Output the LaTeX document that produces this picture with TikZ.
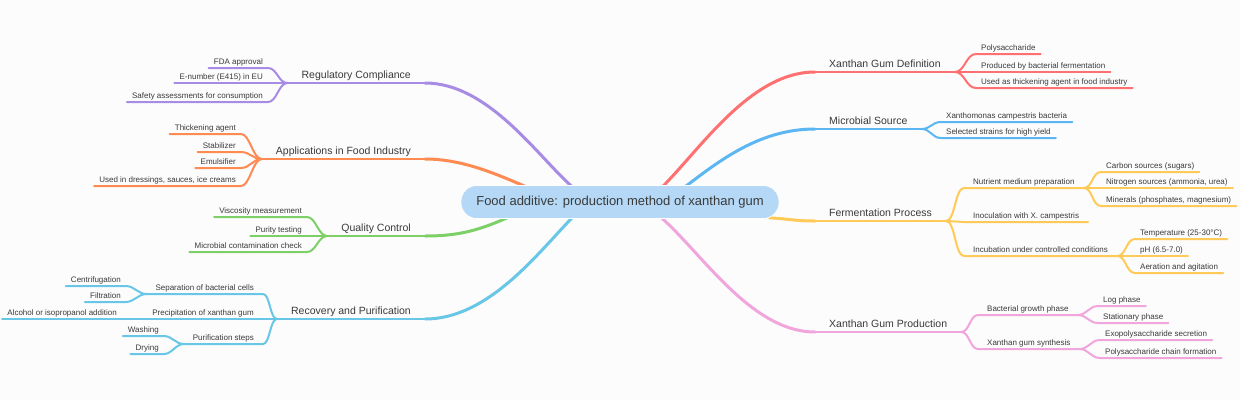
\documentclass[tikz,border=0pt]{standalone}
\usepackage{fontspec}
\setmainfont{Liberation Sans}
\usetikzlibrary{backgrounds}
\definecolor{testo}{HTML}{3A3A3A}
\definecolor{sfondo}{HTML}{FCFCFC}
\definecolor{radicefill}{HTML}{B4D8F5}
\definecolor{rosso}{HTML}{FF7070}
\definecolor{blu}{HTML}{5CB6F2}
\definecolor{giallo}{HTML}{FFCA57}
\definecolor{rosa}{HTML}{F0A5DC}
\definecolor{viola}{HTML}{A88BE5}
\definecolor{arancio}{HTML}{FF8A52}
\definecolor{verde}{HTML}{7DCF67}
\definecolor{ciano}{HTML}{68C7E6}
\tikzset{
  radice/.style={fill=radicefill, draw=white, line width=0.6pt, rounded corners=16pt,
    minimum width=318pt, minimum height=33pt, text=testo, font=\fontsize{13}{15}\selectfont},
  ramo/.style={font=\fontsize{10.5}{12}\selectfont, text=testo, inner xsep=14pt,
    inner ysep=1.5pt, text height=8pt, text depth=3pt},
  voce/.style={font=\fontsize{8}{9}\selectfont, text=testo, inner xsep=5pt,
    inner ysep=1pt, text height=6pt, text depth=2pt},
  sotto/.style={voce, inner xsep=9pt},
  linea/.style={line width=2pt, line cap=round},
  tronco/.style={line width=3pt, line cap=round}
}
\begin{document}
\begin{tikzpicture}[x=1pt, y=-1pt]
\useasboundingbox (0,0) rectangle (1240,400);
\node[radice] (root) at (620,202) {Food additive: production method of xanthan gum};

% rami principali
\node[ramo, anchor=south west] (def) at (815,72) {Xanthan Gum Definition};
\node[ramo, anchor=south west] (mic) at (815,129) {Microbial Source};
\node[ramo, anchor=south west] (fer) at (815,221) {Fermentation Process};
\node[ramo, anchor=south west] (pro) at (815,332) {Xanthan Gum Production};
\node[ramo, anchor=south east] (reg) at (425,83) {Regulatory Compliance};
\node[ramo, anchor=south east] (app) at (425,159) {Applications in Food Industry};
\node[ramo, anchor=south east] (qc) at (425,236) {Quality Control};
\node[ramo, anchor=south east] (rec) at (425,319) {Recovery and Purification};

\begin{scope}[on background layer]
  \fill[sfondo] (0,0) rectangle (1240,400);
  \draw[rosso, tronco] ([xshift=40pt, yshift=-4pt]root.north) .. controls (700,150) and (750,72) .. (def.south west);
  \draw[blu, tronco] ([xshift=62pt, yshift=-4pt]root.north) .. controls (720,160) and (760,129) .. (mic.south west);
  \draw[giallo, tronco] ([xshift=-10pt, yshift=1pt]root.south east) .. controls (790,219) and (795,221) .. (fer.south west);
  \draw[rosa, tronco] ([xshift=38pt, yshift=4pt]root.south) .. controls (700,250) and (750,332) .. (pro.south west);
  \draw[viola, tronco] ([xshift=-45pt, yshift=-4pt]root.north) .. controls (540,160) and (490,83) .. (reg.south east);
  \draw[arancio, tronco] ([xshift=69pt, yshift=-3pt]root.north west) .. controls (500,176) and (465,159) .. (app.south east);
  \draw[verde, tronco] ([xshift=51pt, yshift=3pt]root.south west) .. controls (480,230) and (460,236) .. (qc.south east);
  \draw[ciano, tronco] ([xshift=-45pt, yshift=4pt]root.south) .. controls (540,250) and (490,319) .. (rec.south east);
\end{scope}

\foreach \n/\c in {def/rosso, mic/blu, fer/giallo, pro/rosa, reg/viola, app/arancio, qc/verde, rec/ciano}
  \draw[\c, linea] (\n.south west) -- (\n.south east);

% destra
\foreach \y/\t [count=\i] in {54/Polysaccharide, 72/Produced by bacterial fermentation, 88/Used as thickening agent in food industry}{
  \node[voce, anchor=south west] (def\i) at (976,\y) {\t};
  \draw[rosso, linea] (def.south east) .. controls +(10,0) and +(-10,0) .. (def\i.south west) -- (def\i.south east);
}
\foreach \y/\t [count=\i] in {122/Xanthomonas campestris bacteria, 138/Selected strains for high yield}{
  \node[voce, anchor=south west] (mic\i) at (941,\y) {\t};
  \draw[blu, linea] (mic.south east) .. controls +(9,0) and +(-9,0) .. (mic\i.south west) -- (mic\i.south east);
}
\foreach \y/\t/\n in {188/Nutrient medium preparation/nut, 222/Inoculation with X. campestris/ino, 256/Incubation under controlled conditions/inc}{
  \node[sotto, anchor=south west] (\n) at (964,\y) {\t};
  \draw[giallo, linea] (fer.south east) .. controls +(9,0) and +(-9,0) .. (\n.south west) -- (\n.south east);
}
\foreach \y/\t [count=\i] in {172/Carbon sources (sugars), 188/{Nitrogen sources (ammonia, urea)}, 206/{Minerals (phosphates, magnesium)}}{
  \node[voce, anchor=south west] (nut\i) at (1101,\y) {\t};
  \draw[giallo, linea] (nut.south east) .. controls +(9,0) and +(-9,0) .. (nut\i.south west) -- (nut\i.south east);
}
\foreach \y/\t [count=\i] in {239/Temperature (25-30°C), 256/pH (6.5-7.0), 273/Aeration and agitation}{
  \node[voce, anchor=south west] (inc\i) at (1135,\y) {\t};
  \draw[giallo, linea] (inc.south east) .. controls +(9,0) and +(-9,0) .. (inc\i.south west) -- (inc\i.south east);
}
\foreach \y/\t/\n in {315/Bacterial growth phase/bac, 349/Xanthan gum synthesis/syn}{
  \node[sotto, anchor=south west] (\n) at (978,\y) {\t};
  \draw[rosa, linea] (pro.south east) .. controls +(8,0) and +(-8,0) .. (\n.south west) -- (\n.south east);
}
\foreach \y/\t [count=\i] in {306/Log phase, 323/Stationary phase}{
  \node[voce, anchor=south west] (bac\i) at (1098,\y) {\t};
  \draw[rosa, linea] (bac.south east) .. controls +(9,0) and +(-9,0) .. (bac\i.south west) -- (bac\i.south east);
}
\foreach \y/\t [count=\i] in {340/Exopolysaccharide secretion, 358/Polysaccharide chain formation}{
  \node[voce, anchor=south west] (syn\i) at (1100,\y) {\t};
  \draw[rosa, linea] (syn.south east) .. controls +(9,0) and +(-9,0) .. (syn\i.south west) -- (syn\i.south east);
}

% sinistra
\foreach \y/\t [count=\i] in {68/FDA approval, 83/E-number (E415) in EU, 102/Safety assessments for consumption}{
  \node[voce, anchor=south east] (reg\i) at (268,\y) {\t};
  \draw[viola, linea] (reg.south west) .. controls +(-9,0) and +(9,0) .. (reg\i.south east) -- (reg\i.south west);
}
\foreach \y/\t [count=\i] in {134/Thickening agent, 152/Stabilizer, 168/Emulsifier, 186/{Used in dressings, sauces, ice creams}}{
  \node[voce, anchor=south east] (app\i) at (241,\y) {\t};
  \draw[arancio, linea] (app.south west) .. controls +(-9,0) and +(9,0) .. (app\i.south east) -- (app\i.south west);
}
\foreach \y/\t [count=\i] in {217/Viscosity measurement, 236/Purity testing, 252/Microbial contamination check}{
  \node[voce, anchor=south east] (qc\i) at (307,\y) {\t};
  \draw[verde, linea] (qc.south west) .. controls +(-9,0) and +(9,0) .. (qc\i.south east) -- (qc\i.south west);
}
\foreach \y/\t/\n in {294/Separation of bacterial cells/sep, 319/Precipitation of xanthan gum/pre, 344/Purification steps/pur}{
  \node[sotto, anchor=south east] (\n) at (263,\y) {\t};
  \draw[ciano, linea] (rec.south west) .. controls +(-7,0) and +(7,0) .. (\n.south east) -- (\n.south west);
}
\foreach \y/\t [count=\i] in {286/Centrifugation, 302/Filtration}{
  \node[voce, anchor=south east] (sep\i) at (126,\y) {\t};
  \draw[ciano, linea] (sep.south west) .. controls +(-8,0) and +(8,0) .. (sep\i.south east) -- (sep\i.south west);
}
\node[voce, anchor=south east] (pre1) at (122,319) {Alcohol or isopropanol addition};
\draw[ciano, linea] (pre.south west) -- (pre1.south east) -- (pre1.south west);
\foreach \y/\t [count=\i] in {336/Washing, 354/Drying}{
  \node[voce, anchor=south east] (pur\i) at (164,\y) {\t};
  \draw[ciano, linea] (pur.south west) .. controls +(-8,0) and +(8,0) .. (pur\i.south east) -- (pur\i.south west);
}
\end{tikzpicture}
\end{document}
